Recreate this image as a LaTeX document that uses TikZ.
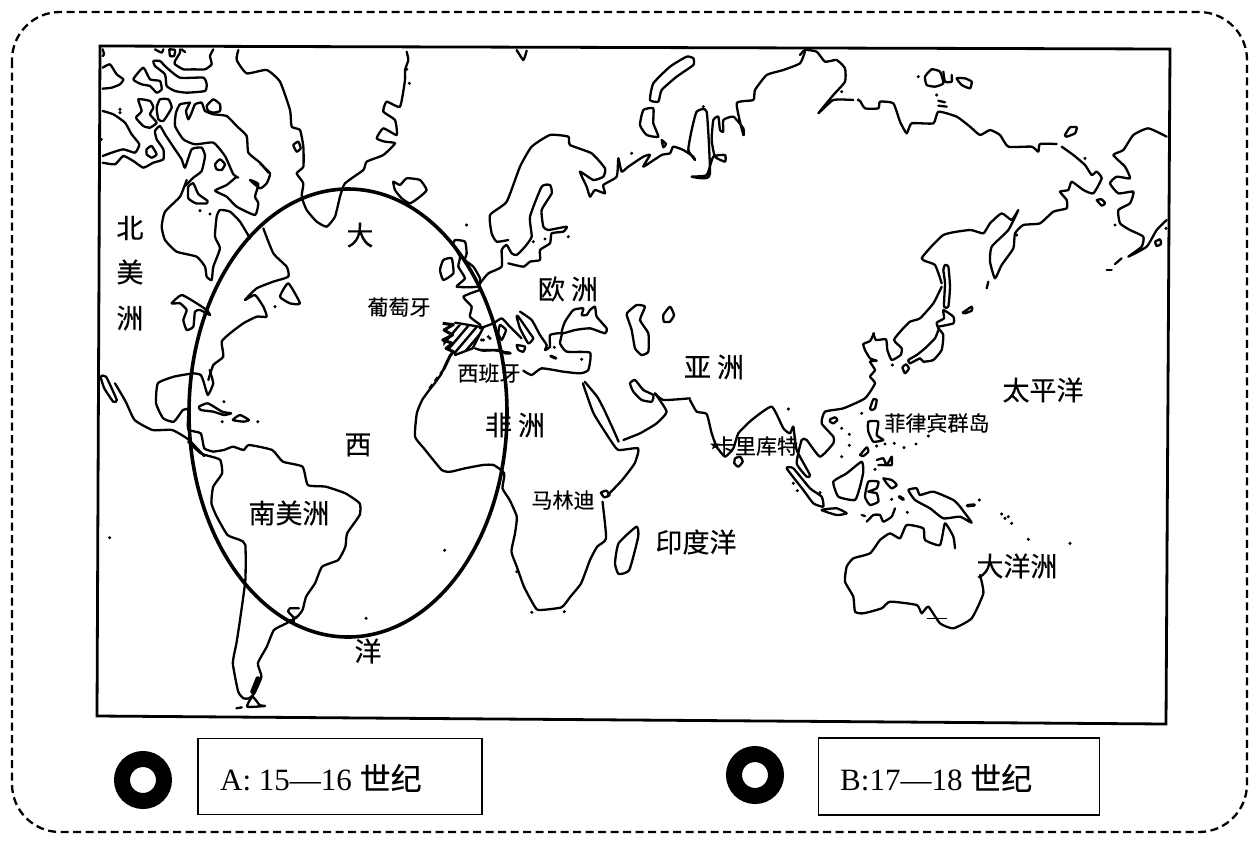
\documentclass[tikz,border=0pt]{standalone}
\usepackage{fontspec}
\setmainfont{Liberation Serif}
\newfontfamily\cjk[FakeBold=0.25]{Noto Sans CJK SC}
\usetikzlibrary{shapes.geometric}
\newcommand\coast[1]{\draw[coast] plot[smooth,tension=.3] coordinates {#1};}
\newcommand\isle[1]{\draw[coast] plot[smooth cycle,tension=.3] coordinates {#1};}
\newcommand\nib[1]{\draw[nibline] plot[smooth,tension=.35] coordinates {#1};}
\newcommand\specks[1]{\foreach \p in {#1} \fill \p circle (1.7pt);}
\tikzset{
 nibline/.style={draw=black,line width=2.3pt,line join=round,line cap=round},
 coast/.style={nibline},
 zone/.style={draw=black,line width=3.6pt},
 big/.style={font=\cjk\fontsize{27}{27}\selectfont,inner sep=0pt,text=black},
 mid/.style={font=\cjk\fontsize{21}{21}\selectfont,inner sep=0pt,text=black},
 legendbox/.style={draw=black,line width=1.7pt},
 legendtext/.style={font=\fontsize{31}{31}\selectfont,inner sep=0pt,anchor=west},
 ring/.style={draw=black,line width=16pt},
 zA/.style={shift={(90,40)},x=.33333pt,y=-.33333pt},
 zB/.style={shift={(90,370)},x=.35714pt,y=-.33333pt},
 zC/.style={shift={(480,40)},x=.33333pt,y=-.33333pt},
 zD/.style={shift={(800,40)},x=.33333pt,y=-.33333pt},
 zE/.style={shift={(690,340)},x=.33333pt,y=-.33333pt},
 zF/.style={shift={(400,280)},x=.33333pt,y=-.33333pt},
 zG/.style={shift={(870,280)},x=.33333pt,y=-.33333pt},
 zH/.style={shift={(100,46)},x=.33333pt,y=-.33333pt},
 zI/.style={shift={(520,300)},x=.33333pt,y=-.33333pt},
}
\begin{document}
\begin{tikzpicture}[x=1pt,y=-1pt]
\useasboundingbox (0,0) rectangle (1258,841);
\fill[white] (0,0) rectangle (1258,841);
% dashed outer frame and map frame
\draw[black,line width=2.3pt,dash pattern=on 8pt off 4.5pt,rounded corners=48pt] (12,12) rectangle (1247,832);
\draw[black,line width=2.8pt] (100,46) -- (1170,49) -- (1166,724) -- (97,716) -- cycle;

% Canadian Arctic
\begin{scope}[zH]
\nib{(165,10)(185,20)(190,10)}
\nib{(208,10)(225,12)(222,30)(210,30)(208,10)}
\nib{(245,10)(255,18)}
\coast{(340,10)(330,30)(335,55)(315,70)(280,70)(250,70)(225,55)(225,45)(240,20)(240,10)}
\isle{(160,45)(180,45)(200,65)(240,95)(310,95)(320,115)(315,135)(260,140)(225,135)(200,120)(195,85)(165,60)}
\coast{(8,65)(30,55)(50,85)(70,100)(60,115)(35,125)(8,128)}
\nib{(8,10)(12,25)(8,30)}
\isle{(100,100)(130,65)(150,100)(180,105)(185,130)(170,140)(150,120)(125,115)}
\isle{(115,160)(150,165)(160,185)(150,205)(170,230)(150,245)(130,240)(108,215)(125,195)}
\isle{(180,160)(205,160)(215,185)(190,225)(175,220)(170,185)}
\coast{(270,170)(240,175)(228,200)(225,240)(250,280)(285,295)(340,290)(375,330)(400,385)(415,395)}
\coast{(270,170)(258,195)(265,220)(275,200)(285,175)(305,170)(315,195)(340,205)}
\isle{(320,180)(340,160)(360,175)(360,195)(340,200)(325,195)}
\coast{(340,205)(380,210)(410,240)(440,270)(445,320)(480,350)(505,380)}
\coast{(8,195)(40,205)(75,230)(95,265)(118,295)(105,320)(70,310)(35,320)(8,330)}
\coast{(8,350)(45,355)(70,330)(100,345)(130,365)(160,350)(190,340)(190,310)(170,280)(165,255)(180,240)(195,265)(225,310)(245,340)(255,365)(275,310)(305,305)(315,330)(305,375)(280,395)(255,420)}
\isle{(140,310)(155,300)(170,325)(155,335)(140,325)}
\isle{(345,355)(360,340)(375,355)(365,372)(350,370)}
\specks{(60,190),(60,200),(4,280)}
\end{scope}

% North America and Greenland
\begin{scope}[zA]
\coast{(510,370)(540,400)(530,430)(510,445)(480,420)(505,432)(495,470)(505,490)(495,525)(440,500)(410,470)(375,452)(410,435)(440,410)}
\coast{(290,420)(270,470)(225,515)(215,560)(225,600)(260,635)(320,650)(345,680)(350,710)(365,720)(370,680)(390,625)(375,590)(380,530)(390,510)(420,515)(450,545)(480,595)}
\coast{(520,565)(550,640)(590,680)(595,710)(550,725)(500,745)(465,780)(495,765)(520,800)(530,830)(500,830)(460,850)(420,880)(395,905)(400,950)(370,975)(355,1020)}
\isle{(295,440)(310,430)(325,462)(352,482)(350,490)(318,490)(295,475)}
\coast{(445,30)(440,60)(470,100)(530,90)(570,125)(600,210)(605,260)(630,270)(640,320)(640,380)(620,400)(640,430)(635,470)(650,510)(680,545)(710,560)(735,530)(750,470)(765,430)(820,390)(830,365)(880,345)(915,310)(885,305)(860,295)(880,265)(920,285)(915,240)(880,215)(890,185)(930,200)(945,120)(945,90)(955,60)(950,35)}
\isle{(610,315)(625,305)(632,325)(620,335)}
\isle{(910,425)(930,435)(950,415)(990,420)(1010,450)(990,470)(960,490)(935,475)(915,450)}
\isle{(570,770)(595,730)(630,790)(600,790)}
\isle{(245,790)(275,765)(320,790)(350,810)(360,825)(330,810)(315,815)(310,860)(290,870)(280,840)(290,810)(270,790)}
\isle{(1050,690)(1060,660)(1085,655)(1090,700)(1060,720)}
\isle{(1095,600)(1125,605)(1130,640)(1125,660)(1150,680)(1170,715)(1165,740)(1100,740)(1125,715)(1105,680)(1110,650)(1090,615)}
\coast{(1170,750)(1120,770)(1145,800)(1140,830)(1172,855)}
\specks{(1130,555),(330,512),(360,522),(555,800),(958,130),(950,88)}
\end{scope}

% Central and South America, Africa
\begin{scope}[zB]
\isle{(30,20)(45,20)(75,90)(65,95)(40,55)}
\coast{(70,40)(100,95)(125,150)(175,180)(230,180)(275,208)(320,258)}
\coast{(335,0)(345,40)(330,75)(318,35)(310,15)(290,10)(235,20)(190,40)(185,100)(205,145)(235,155)(260,120)(275,120)(275,178)(310,190)(320,235)(345,245)}
\coast{(345,245)(375,240)(400,230)(430,240)(445,225)(510,240)(540,275)(595,290)(610,345)(660,350)(715,370)(755,400)(755,435)(720,490)(715,530)(695,570)(650,590)(630,640)(605,680)(595,720)(575,745)(555,725)(560,715)(585,715)}
\coast{(580,740)(550,760)(515,780)(495,830)(470,880)(480,920)(460,970)(445,985)(430,985)(415,965)(400,880)(410,820)(420,750)(435,630)(435,525)(420,510)(385,495)(355,440)(340,400)(345,350)(370,310)(365,270)(340,260)(310,250)(275,215)}
\isle{(440,1010)(455,980)(475,1005)(490,1008)}
\nib{(410,1015)(425,1012)}
\draw[black,line width=4.5pt,line cap=round] (470,925) -- (455,965);
\draw[black,line width=3pt] (550,750) -- (575,750);
\isle{(305,110)(330,100)(370,125)(395,130)(375,135)(345,125)(310,120)}
\isle{(400,150)(420,135)(445,150)(430,155)}
\coast{(985,10)(965,40)(950,60)(930,90)(915,130)(910,200)(935,235)(985,300)(1010,305)(1050,295)(1100,285)(1130,285)(1160,310)(1155,355)(1175,390)(1195,440)(1190,490)(1180,545)(1195,590)(1215,650)(1240,700)(1255,720)(1320,712)(1345,680)(1375,640)(1400,570)(1420,530)(1445,505)(1435,395)}
\nib{(1430,368)(1445,362)(1455,375)(1440,382)(1430,368)}
\coast{(1450,375)(1490,330)(1525,280)(1535,235)(1480,240)(1460,215)(1410,130)(1380,40)}
\coast{(1385,35)(1420,80)(1440,120)(1470,190)(1480,215)}
\isle{(1480,520)(1530,470)(1535,500)(1510,600)(1480,612)(1470,580)}
\specks{(370,155),(470,155),(375,95),(55,503),(993,541),(773,745),(1237,727),(1328,725),(1195,605)}
\end{scope}

% Europe, Middle East, Siberia west
\begin{scope}[zC]
\coast{(110,30)(130,60)(140,32)}
\coast{(0,730)(25,700)(65,680)(65,630)(80,615)(95,640)(110,645)(135,620)(155,590)(150,530)(185,440)(210,435)(215,460)(185,510)(190,560)(205,570)(260,560)(250,575)(215,580)(210,610)(180,630)(180,660)(150,665)(130,680)(85,670)}
\coast{(85,600)(50,605)(35,580)(30,525)(80,485)(120,380)(155,320)(210,285)(265,290)(270,315)(335,340)(375,385)(370,410)(340,420)(300,395)(320,440)(330,470)(345,450)(375,460)(370,435)(410,410)(415,355)(425,395)(445,380)(490,350)(510,345)(490,380)(545,345)(570,340)(580,320)(610,330)(640,350)(645,360)(625,330)(635,270)(650,215)(680,215)(690,400)(670,415)(635,410)(680,405)(700,350)(735,345)(735,365)(705,350)(695,300)(700,240)(715,230)(720,270)(730,275)(730,240)(760,230)(790,265)(790,285)(770,190)(820,180)(825,150)(860,105)(910,90)(960,70)(975,35)}
\isle{(510,180)(520,130)(570,80)(620,50)(640,55)(640,75)(590,110)(545,150)(535,185)}
\isle{(490,210)(520,205)(520,250)(535,290)(500,285)(480,255)}
\nib{(545,300)(558,312)(550,322)(545,300)}
\coast{(0,865)(40,850)(65,835)(85,855)(110,880)(125,895)}
\isle{(115,830)(150,880)(160,895)(145,910)(120,865)(110,830)}
\nib{(110,915)(135,920)(130,935)(115,930)(110,915)}
\isle{(60,855)(78,870)(65,900)(55,880)}
\coast{(0,930)(40,930)(65,935)(90,938)}
\isle{(445,815)(470,795)(495,800)(480,840)(505,880)(505,935)(485,945)(465,925)(455,870)(440,825)}
\isle{(550,825)(570,800)(582,825)(570,845)(552,845)}
\isle{(450,1030)(465,1020)(490,1050)(520,1065)(515,1085)(485,1080)(460,1055)}
\coast{(525,1060)(550,1080)(630,1075)}
\coast{(525,1060)(560,1115)(530,1150)(480,1180)(430,1200)}
\specks{(160,605),(195,597),(265,590),(455,340),(670,200),(10,900),(30,895)}
\end{scope}

% Balkans, Black Sea, Levant
\begin{scope}[zI]
\coast{(0,35)(35,60)(60,105)(80,135)(75,150)(90,140)(90,105)(125,100)(120,130)(140,155)(210,158)(205,210)(180,220)(130,215)(65,205)(35,225)(10,212)}
\isle{(125,100)(135,65)(160,30)(190,25)(185,45)(200,45)(210,30)(225,20)(230,50)(260,85)(255,100)(210,85)(165,90)}
\draw[black,line width=3pt,line cap=round] (92,168) -- (108,175);
\specks{(103,142),(185,178)}
\end{scope}

% Iberia
\begin{scope}[zF]
\begin{scope}
\clip (130,130) -- (250,142) -- (215,205) -- (165,225) -- (130,200) -- cycle;
\foreach \d in {-60,-32,...,140} \draw[black,line width=2.4pt] (150+\d,240) -- (260+\d,110);
\end{scope}
\draw[nibline] (165,128) -- (250,142) -- (218,205) -- (165,225);
\draw[black,line width=3pt,line join=round] (128,130) -- (160,134) -- (132,150) -- (158,165) -- (128,180) -- (158,190) -- (138,205) -- (160,215) -- (150,228) -- (130,270);
\draw[black,line width=2.6pt,dash pattern=on 5pt off 4pt] (130,270) -- (85,330);
\specks{(245,180),(265,170)}
\coast{(225,205)(250,212)(300,210)(315,220)(332,220)}
\end{scope}

% Siberia east, Alaska
\begin{scope}[zD]
\coast{(0,45)(15,30)(50,35)(75,65)(110,60)(135,85)(135,125)(100,165)(55,220)(100,180)(160,180)}
\coast{(180,182)(195,205)(235,205)(240,185)(280,190)(300,245)(320,280)(335,250)(400,250)(415,215)(470,230)(510,260)(540,285)(570,270)(600,285)(625,320)(695,320)(715,335)(720,312)(770,312)}
\coast{(785,320)(820,345)(855,375)(875,405)(890,395)(905,415)(880,460)(850,450)(815,425)(805,450)(780,455)(800,480)(800,505)(760,515)(720,550)(670,555)(645,580)(640,625)(605,675)(585,715)(570,665)(575,620)(625,570)(655,510)(635,540)(605,520)(570,550)(550,580)(510,570)(430,585)(365,655)(405,675)(425,730)}
\coast{(1100,290)(1045,265)(1000,285)(970,330)(940,345)(975,380)(990,415)(950,410)(930,430)(955,460)(1000,455)(990,490)(955,510)(960,550)(990,570)(1030,590)(1025,620)(985,650)(1040,620)(1070,570)(1100,540)}
\isle{(795,285)(810,262)(830,262)(825,280)(800,290)}
\nib{(890,480)(905,478)(915,490)(905,497)(890,480)}
\isle{(375,110)(395,88)(420,95)(430,130)(405,140)(380,135)}
\coast{(430,95)(435,125)(455,125)(455,105)}
\isle{(470,115)(495,115)(515,125)(510,145)(485,135)}
\nib{(415,182)(435,187)}
\nib{(415,197)(440,200)}
\isle{(435,675)(445,680)(450,740)(445,800)(432,800)(435,730)(430,690)}
\nib{(935,690)(920,690)}
\nib{(945,672)(965,655)}
\nib{(560,745)(565,725)}
\nib{(1065,605)(1080,598)(1083,612)(1070,618)(1065,605)}
\specks{(355,110),(410,165),(125,155),(175,180),(945,555),(855,355),(650,585),(1098,565)}
\end{scope}

% Japan and Korea
\begin{scope}[zG]
\coast{(10,160)(18,180)(48,178)(52,210)(65,240)(92,225)(95,205)(72,180)(95,150)(120,125)(150,115)(190,70)(215,20)}
\coast{(205,145)(200,128)(222,115)(220,90)(250,110)(250,130)(205,140)}
\coast{(205,145)(220,165)(215,210)(190,240)(160,245)(150,235)(120,250)(115,240)(140,225)(165,205)(195,175)(205,150)}
\nib{(278,98)(305,80)(305,92)(285,100)(278,98)}
\nib{(97,262)(108,253)(117,265)(105,280)(97,262)}
\specks{(67,255)}
\end{scope}

% South and South-East Asia, Australia
\begin{scope}[zE]
\coast{(0,180)(20,215)(50,222)(65,280)(80,320)(105,350)(130,325)(145,280)(185,240)(245,200)(280,265)(300,280)(310,260)(320,330)(360,405)(350,410)(320,370)(335,300)(350,300)(390,350)(430,310)(430,290)(395,250)(405,215)(460,205)(525,175)(555,130)(540,110)(555,90)(540,65)(560,62)(540,55)(525,30)(520,12)(540,3)(552,-20)}
\nib{(135,355)(150,350)(158,365)(145,380)(133,370)(135,355)}
\nib{(540,205)(550,178)(560,180)(555,205)(545,210)(540,205)}
\nib{(420,238)(435,232)(442,240)(430,250)(420,245)(420,238)}
\isle{(535,245)(565,245)(560,285)(580,300)(550,305)(535,275)}
\nib{(510,345)(530,322)(535,335)(520,348)(510,345)}
\coast{(560,360)(580,355)(590,375)(605,350)(605,375)(580,375)(565,375)}
\isle{(430,425)(470,400)(515,365)(520,395)(510,440)(495,480)(445,470)}
\isle{(535,425)(565,425)(560,445)(535,455)(560,460)(565,485)(540,495)(525,470)}
\isle{(290,385)(310,385)(360,445)(395,470)(400,500)(370,490)(340,450)}
\isle{(395,510)(440,505)(470,520)(440,525)}
\isle{(655,450)(680,445)(690,465)(730,455)(790,480)(810,500)(845,548)(810,530)(760,535)(720,505)(675,480)}
\draw[black,line width=3.5pt,line cap=round] (832,497) -- (853,495);
\coast{(530,545)(550,525)(570,525)(580,545)(605,530)(615,505)}
\nib{(515,525)(525,528)}
\nib{(580,415)(605,420)(620,435)(605,445)(590,430)(580,415)}
\draw[black,line width=3.5pt,line cap=round] (628,470) -- (640,478);
\coast{(795,625)(790,590)(765,550)(750,615)(705,600)(700,565)(650,555)(630,595)(600,580)(570,600)(540,640)(490,655)(470,680)(465,725)(490,770)(495,815)(520,820)(575,805)(600,785)(680,795)(695,820)(715,800)(750,850)(790,865)(845,835)(880,760)(870,705)}
\draw[black,line width=1pt] (710,835) -- (770,835);
\specks{(295,207),(515,220),(455,265),(478,283),(478,316),(455,350),(560,318),(585,312),(613,310),(642,323),(678,312),(715,288),(605,478),(652,517),(868,480),(935,522),(945,535),(955,530),(965,550),(1015,598),(1140,610),(322,452),(310,430),(390,458),(555,388)}
\node[star,star points=5,star point ratio=2.4,fill=black,inner sep=1.5pt] (calicutstar) at (75,316) {};
\end{scope}

% Voyage zone
\draw[zone] (348,413) ellipse [x radius=159pt,y radius=224pt];

% Labels
\node[big] (na1) at (130,228) {北};
\node[big] (na2) at (130,272) {美};
\node[big] (na3) at (130,318) {洲};
\node[big] (da) at (360,235) {大};
\node[big] (xi) at (358,445) {西};
\node[big] (yang) at (368,651) {洋};
\node[mid] (pt) at (399,307) {葡萄牙};
\node[mid] (es) at (489,373) {西班牙};
\node[big] (eu) at (568,289) {欧 洲};
\node[big] (as) at (714,367) {亚 洲};
\node[big] (af) at (515,425) {非 洲};
\node[big] (sa) at (289,513) {南美洲};
\node[big] (pac) at (1043,390) {太平洋};
\node[mid] (ph) at (937,423) {菲律宾群岛};
\node[mid] (cal) at (756,446) {卡里库特};
\node[mid] (mal) at (563,500) {马林迪};
\node[big] (ind) at (696,542) {印度洋};
\node[big] (oc) at (1017,566) {大洋洲};

% Legend
\draw[ring] (143,780) circle (21pt);
\draw[ring] (755,775) circle (21pt);
\node[legendbox,minimum width=284pt,minimum height=76pt,inner sep=0pt] (boxA) at (340,776.5) {};
\node[legendbox,minimum width=281pt,minimum height=77pt,inner sep=0pt] (boxB) at (959,776.5) {};
\node[legendtext] (ta) at (220,778) {A: 15—16 {\cjk\fontsize{31}{31}\selectfont 世纪}};
\node[legendtext] (tb) at (840,778) {B:17—18 {\cjk\fontsize{31}{31}\selectfont 世纪}};
\end{tikzpicture}
\end{document}
